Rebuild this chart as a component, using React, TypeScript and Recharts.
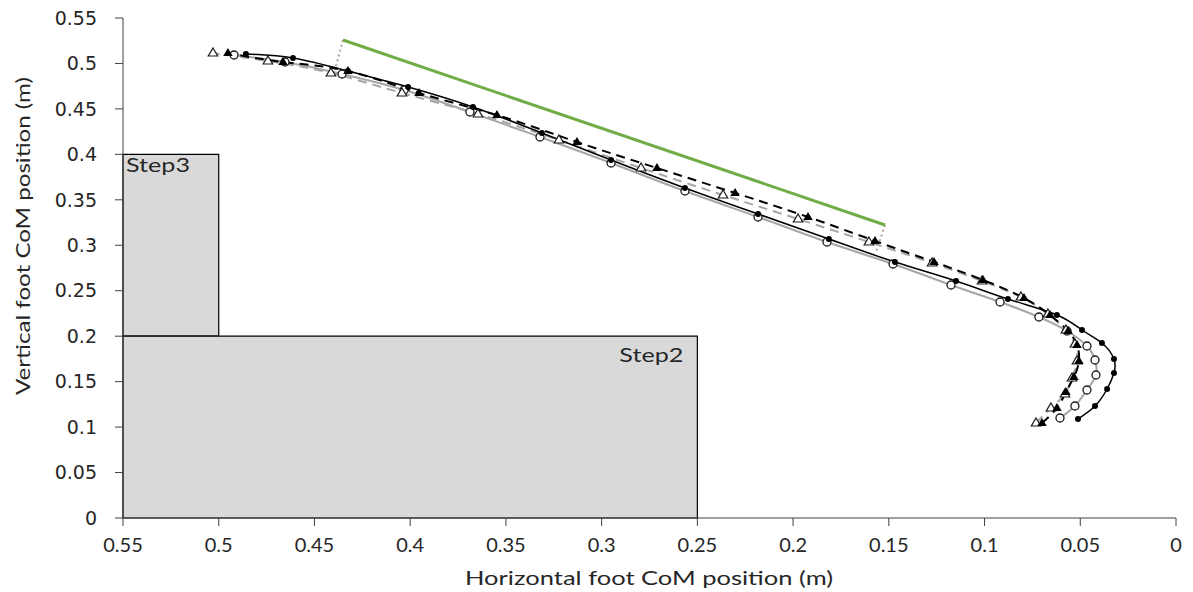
import { ComposedChart, Line, XAxis, YAxis, ReferenceArea } from "recharts";

const axisTicks = [0, 0.05, 0.1, 0.15, 0.2, 0.25, 0.3, 0.35, 0.4, 0.45, 0.5, 0.55];

// black solid line, filled dots
const solidBlackX = [0.0512, 0.0423, 0.036, 0.0324, 0.0324, 0.0387, 0.0491, 0.0622, 0.0878, 0.1149, 0.1468, 0.1813, 0.2183, 0.2565, 0.2951, 0.3312, 0.3672, 0.4011, 0.4325, 0.4612, 0.4858];
const solidBlackY = [0.1089, 0.1232, 0.1419, 0.1595, 0.1749, 0.1925, 0.2068, 0.2233, 0.2409, 0.2607, 0.2816, 0.3069, 0.3344, 0.363, 0.3938, 0.4235, 0.4521, 0.4741, 0.4917, 0.506, 0.5104];

// grey solid line, open circles
const solidGreyX = [0.0606, 0.0528, 0.0465, 0.0418, 0.0423, 0.0465, 0.0569, 0.0716, 0.0919, 0.1175, 0.1478, 0.1823, 0.2183, 0.2565, 0.2951, 0.3322, 0.3688, 0.4032, 0.4356, 0.4654, 0.492];
const solidGreyY = [0.11, 0.1232, 0.1408, 0.1573, 0.1738, 0.1892, 0.2057, 0.2211, 0.2376, 0.2563, 0.2794, 0.3036, 0.3311, 0.3597, 0.3905, 0.4191, 0.4466, 0.4708, 0.4884, 0.5016, 0.5093];

// black dashed line, filled triangles
const dashBlackX = [0.07, 0.0622, 0.0575, 0.0533, 0.0507, 0.0517, 0.0564, 0.0658, 0.0794, 0.1008, 0.1264, 0.1572, 0.1922, 0.2303, 0.2711, 0.3129, 0.3547, 0.3954, 0.4325, 0.4664, 0.4952];
const dashBlackY = [0.1045, 0.121, 0.1386, 0.1551, 0.1727, 0.1903, 0.2057, 0.2233, 0.242, 0.2618, 0.2816, 0.3047, 0.3311, 0.3575, 0.385, 0.4136, 0.4433, 0.4675, 0.4917, 0.5016, 0.5115];

// grey dashed line, open triangles
const dashGreyX = [0.0731, 0.0653, 0.058, 0.0543, 0.0517, 0.0528, 0.0575, 0.0669, 0.081, 0.1013, 0.1274, 0.1604, 0.1974, 0.2366, 0.2794, 0.3223, 0.3646, 0.4043, 0.4414, 0.4743, 0.503];
const dashGreyY = [0.1045, 0.121, 0.1364, 0.154, 0.1727, 0.1914, 0.2068, 0.2244, 0.2431, 0.2607, 0.2805, 0.3036, 0.3289, 0.3553, 0.385, 0.4158, 0.4444, 0.4675, 0.4895, 0.5027, 0.5115];

// green reference line and dotted drop lines
const greenX = [0.4351, 0.152];
const greenY = [0.5258, 0.3223];
const dropStartX = [0.4351, 0.4393];
const dropStartY = [0.5258, 0.4928];
const dropEndX = [0.152, 0.1567];
const dropEndY = [0.3223, 0.2926];

const zip = (xs: number[], ys: number[]) => xs.map((x, i) => ({ x, y: ys[i] }));

const fmt = (v: number) => String(Number(v.toFixed(2)));

const ink = "#262626";
const tickFont = { fontFamily: "DejaVu Sans", fontSize: 19, fill: ink };

function FilledDot(p: any) {
  return <circle key={p.index} cx={p.cx} cy={p.cy} r={3} fill="#000" />;
}
function OpenCircle(p: any) {
  return <circle key={p.index} cx={p.cx} cy={p.cy} r={4} fill="#fff" stroke="#1a1a1a" strokeWidth={1.3} />;
}
function tri(cx: number, cy: number, s: number) {
  return `M${cx},${cy - s} L${cx + s * 0.95},${cy + s * 0.6} L${cx - s * 0.95},${cy + s * 0.6} Z`;
}
function FilledTri(p: any) {
  return <path key={p.index} d={tri(p.cx, p.cy, 5)} fill="#000" />;
}
function OpenTri(p: any) {
  return <path key={p.index} d={tri(p.cx, p.cy, 5)} fill="#fff" stroke="#1a1a1a" strokeWidth={1.2} />;
}

function YTitle() {
  return (
    <text x={22} y={236} transform="rotate(-90 22 236)" textAnchor="middle" dominantBaseline="central"
      fontFamily="Lato" fontSize={20} fill={ink} textLength={318} lengthAdjust="spacingAndGlyphs">
      Vertical foot CoM position (m)
    </text>
  );
}

function XTitle() {
  return (
    <text x={649} y={585} textAnchor="middle" fontFamily="Lato" fontSize={20} fill={ink}
      textLength={368} lengthAdjust="spacingAndGlyphs">
      Horizontal foot CoM position (m)
    </text>
  );
}

function StepLabel(props: any) {
  const { viewBox, text, side } = props;
  if (!viewBox) return null;
  const left = side === "left";
  const x = left ? viewBox.x + 3 : viewBox.x + viewBox.width - 14;
  const y = viewBox.y + (left ? 18 : 26);
  return (
    <text x={x} y={y} textAnchor={left ? "start" : "end"} fontFamily="Lato" fontSize={19} fill={ink}
      textLength={64} lengthAdjust="spacingAndGlyphs">
      {text}
    </text>
  );
}

export default function App() {
  return (
    <div style={{ width: 1193, height: 592, background: "#fff" }}>
      <style>{"body{margin:0}"}</style>
      <ComposedChart width={1193} height={592} margin={{ top: 18, right: 17, bottom: 0, left: 0 }}>
        <XAxis
          type="number"
          dataKey="x"
          domain={[0, 0.55]}
          ticks={axisTicks}
          reversed
          tickFormatter={fmt}
          height={74}
          tickSize={8}
          tickMargin={12}
          stroke="#404040"
          tick={{ ...tickFont, fontFamily: "Lato", fontSize: 20 }}
          label={<XTitle />}
        />
        <YAxis
          type="number"
          dataKey="y"
          domain={[0, 0.55]}
          ticks={axisTicks}
          tickFormatter={fmt}
          width={123}
          tickSize={8}
          tickMargin={18}
          stroke="#404040"
          tick={tickFont}
          label={<YTitle />}
        />
        <ReferenceArea x1={0.55} x2={0.5} y1={0.2} y2={0.4} fill="#d9d9d9" fillOpacity={1} stroke="#000" strokeWidth={1.2}
          label={<StepLabel text="Step3" side="left" />} />
        <ReferenceArea x1={0.55} x2={0.25} y1={0} y2={0.2} fill="#d9d9d9" fillOpacity={1} stroke="#000" strokeWidth={1.2}
          label={<StepLabel text="Step2" side="right" />} />
        <Line data={zip(dropStartX, dropStartY)} dataKey="y" stroke="#a6a6a6" strokeWidth={2} strokeDasharray="2 3" dot={false} isAnimationActive={false} />
        <Line data={zip(dropEndX, dropEndY)} dataKey="y" stroke="#a6a6a6" strokeWidth={2} strokeDasharray="2 3" dot={false} isAnimationActive={false} />
        <Line data={zip(greenX, greenY)} dataKey="y" stroke="#70ad47" strokeWidth={3} dot={false} isAnimationActive={false} />
        <Line data={zip(solidGreyX, solidGreyY)} dataKey="y" type="natural" stroke="#a6a6a6" strokeWidth={2} dot={OpenCircle} isAnimationActive={false} />
        <Line data={zip(dashGreyX, dashGreyY)} dataKey="y" type="natural" stroke="#a6a6a6" strokeWidth={2} strokeDasharray="9 6" dot={OpenTri} isAnimationActive={false} />
        <Line data={zip(solidBlackX, solidBlackY)} dataKey="y" type="natural" stroke="#000" strokeWidth={1.5} dot={FilledDot} isAnimationActive={false} />
        <Line data={zip(dashBlackX, dashBlackY)} dataKey="y" type="natural" stroke="#000" strokeWidth={2} strokeDasharray="9 6" dot={FilledTri} isAnimationActive={false} />
      </ComposedChart>
    </div>
  );
}
